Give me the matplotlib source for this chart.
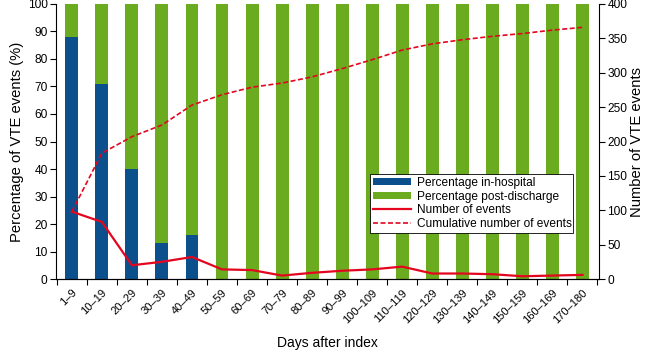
import matplotlib
matplotlib.use("Agg")
import matplotlib.pyplot as plt
import numpy as np
from matplotlib.ticker import FixedLocator, MultipleLocator

plt.rcParams['font.family'] = ['Liberation Sans', 'DejaVu Sans']

categories = ["1–9", "10–19", "20–29", "30–39", "40–49", "50–59", "60–69", "70–79",
              "80–89", "90–99", "100–109", "110–119", "120–129", "130–139", "140–149",
              "150–159", "160–169", "170–180"]
pct_in_hospital = [88, 71, 40, 13, 16, 0, 0, 0, 0, 0, 0, 0, 0, 0, 0, 0, 0, 0]
pct_post_discharge = [100 - v for v in pct_in_hospital]
num_events = [98, 83, 20, 25, 32, 14, 13, 5, 9, 12, 14, 18, 8, 8, 7, 4, 5, 6]
cum_events = [98, 183, 207, 224, 253, 268, 279, 285, 294, 306, 319, 333, 342, 348, 353, 357, 362, 366]

blue = "#0c4f8d"
green = "#6aab1f"
red = "#e3061e"

fig = plt.figure(figsize=(6.5, 3.53), dpi=100)
ax = fig.add_axes([0.086, 0.2096, 0.8355, 0.7791])
x = np.arange(len(categories))
w = 0.43
b1 = ax.bar(x, pct_in_hospital, width=w, color=blue, label="Percentage in-hospital")
b2 = ax.bar(x, pct_post_discharge, width=w, bottom=pct_in_hospital, color=green,
            label="Percentage post-discharge")
ax.set_xlim(-0.53, 17.55)
ax.set_ylim(0, 100)
ax.yaxis.set_major_locator(MultipleLocator(10))
ax.set_xticks(x)
ax.set_xticklabels(categories, rotation=45, ha='right', rotation_mode='anchor', fontsize=8)
ax.xaxis.set_minor_locator(FixedLocator(np.arange(-0.5, 18, 1.0)))
ax.tick_params(axis='x', which='major', length=0, pad=6)
ax.tick_params(axis='x', which='minor', length=4, direction='out', width=0.8)
ax.tick_params(axis='y', length=4, direction='out', labelsize=8.6, width=0.8, pad=2)
for s in ['top', 'right']:
    ax.spines[s].set_visible(False)
ax.set_ylabel("Percentage of VTE events (%)", fontsize=10.6, labelpad=3)
ax.set_xlabel("Days after index", fontsize=10, labelpad=8)

ax2 = ax.twinx()
ax2.set_ylim(0, 400)
ax2.yaxis.set_major_locator(MultipleLocator(50))
l1, = ax2.plot(x, num_events, color=red, lw=1.6, label="Number of events")
l2, = ax2.plot(x, cum_events, color=red, lw=1.2, ls=(0, (3, 1.5)), label="Cumulative number of events")
ax2.spines['top'].set_visible(False)
ax2.spines['left'].set_visible(False)
ax2.tick_params(axis='y', length=4, direction='out', labelsize=8.6, width=0.8, pad=2)
ax2.set_ylabel("Number of VTE events", fontsize=10.6, labelpad=2)

leg = ax2.legend([b1, b2, l1, l2],
                 ["Percentage in-hospital", "Percentage post-discharge", "Number of events",
                  "Cumulative number of events"],
                 loc='lower left', bbox_to_anchor=(0.578, 0.167, 0.374, 0.227), mode='expand',
                 fontsize=8.6, frameon=True, fancybox=False, framealpha=1, edgecolor='black',
                 borderpad=0.25, labelspacing=0.15, handlelength=3.2, handleheight=0.5,
                 handletextpad=0.5, borderaxespad=0)
leg.get_frame().set_linewidth(0.6)

fig.savefig("out.png", dpi=100)
